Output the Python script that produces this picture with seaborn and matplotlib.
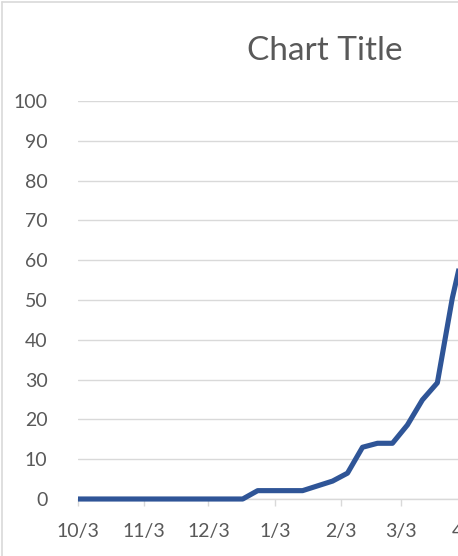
import matplotlib
matplotlib.use("Agg")
import matplotlib.pyplot as plt
import matplotlib.dates as mdates
from matplotlib.lines import Line2D
import seaborn as sns
import pandas as pd
import numpy as np

# ---- data (weekly points) ----
start_date = "2020-10-03"
n_points = 27
values = [0, 0, 0, 0, 0, 0, 0, 0, 0, 0, 0, 0,
          2.1, 2.1, 2.1, 2.1, 3.3, 4.5, 6.5, 13.0, 14.0, 14.0,
          18.6, 24.9, 29.2, 50.5, 67.0]
dates = pd.date_range(start_date, periods=n_points, freq="7D")
title_text = "Chart Title"
y_ticks = [0, 10, 20, 30, 40, 50, 60, 70, 80, 90, 100]

df = pd.DataFrame({"date": dates, "value": values})

sns.set_theme(style="white")
plt.rcParams["font.family"] = ["Lato", "DejaVu Sans"]

W, H = 458, 556
fig = plt.figure(figsize=(W / 100, H / 100), dpi=100)
fig.patch.set_facecolor("white")

# axes in pixel geometry (extends beyond right edge of the cropped figure)
left_px, right_px = 78, 640
top_px, bottom_px = 101, 499
ax = fig.add_axes([left_px / W, (H - bottom_px) / H,
                   (right_px - left_px) / W, (bottom_px - top_px) / H])

px_per_day = (401 - 78) / 151.0
end_date = pd.Timestamp(start_date) + pd.Timedelta(days=(right_px - left_px) / px_per_day)

sns.lineplot(data=df, x="date", y="value", ax=ax, color="#2F5597",
             linewidth=3.7, solid_joinstyle="round", solid_capstyle="butt",
             clip_on=False, zorder=5)

ax.set_xlim(pd.Timestamp(start_date), end_date)
ax.set_ylim(0, 100)
ax.set_yticks(y_ticks)
ax.yaxis.grid(True, color="#d9d9d9", linewidth=1.0)
ax.xaxis.grid(False)
ax.set_xlabel("")
ax.set_ylabel("")

ax.xaxis.set_major_locator(mdates.MonthLocator(bymonthday=3))
ax.xaxis.set_major_formatter(plt.FuncFormatter(
    lambda v, pos: f"{mdates.num2date(v).month}/{mdates.num2date(v).day}"))

for s in ["top", "right", "left"]:
    ax.spines[s].set_visible(False)
ax.spines["bottom"].set_color("#d9d9d9")
ax.spines["bottom"].set_linewidth(1.0)

ax.tick_params(axis="x", bottom=True, length=5, width=1.0, color="#d9d9d9",
               pad=12, labelsize=14, labelcolor="#595959")
ax.tick_params(axis="y", left=False, length=0, pad=22,
               labelsize=14, labelcolor="#595959")

fig.text(325 / W, 1 - 60 / H, title_text, ha="center", va="baseline",
         fontsize=24, color="#595959", fontweight="normal")

# chart border (visible part: left and top)
fig.add_artist(Line2D([1.5 / W, 1.5 / W], [0, 1 - 1.5 / H], color="#d9d9d9",
                      linewidth=1.2, transform=fig.transFigure))
fig.add_artist(Line2D([1.5 / W, 1], [1 - 1.5 / H, 1 - 1.5 / H], color="#d9d9d9",
                      linewidth=1.2, transform=fig.transFigure))

fig.savefig("out.png", dpi=100, facecolor="white")
